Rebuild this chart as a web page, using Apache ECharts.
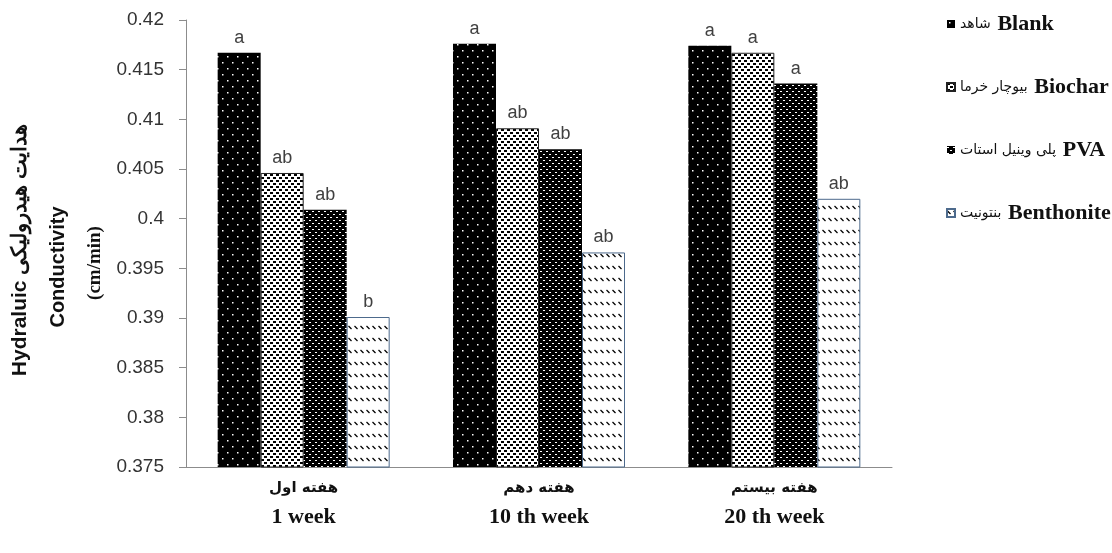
<!DOCTYPE html>
<html>
<head>
<meta charset="utf-8">
<script src="https://cdn.jsdelivr.net/npm/echarts@6/dist/echarts.min.js"></script>
<style>
  html, body { margin: 0; padding: 0; background: #fff; }
  #chart { width: 1112px; height: 553px; }
</style>
</head>
<body>
<div id="chart"></div>
<script>
// Sampling weeks (Persian caption + English caption)
const weeksFa = ['هفته اول', 'هفته دهم', 'هفته بیستم'];
const weeksEn = ['1 week', '10 th week', '20 th week'];

// Treatments
const treatmentsEn = ['Blank', 'Biochar', 'PVA', 'Benthonite'];
const treatmentsFa = ['شاهد', 'بیوچار خرما', 'پلی وینیل استات', 'بنتونیت'];

// Hydraulic conductivity (cm/min)
const blankValues = [0.4167, 0.4176, 0.4174];
const biocharValues = [0.4046, 0.4091, 0.4167];
const pvaValues = [0.4009, 0.4070, 0.4136];
const bentoniteValues = [0.3901, 0.3966, 0.4020];

// Significance letters
const blankLetters = ['a', 'a', 'a'];
const biocharLetters = ['ab', 'ab', 'a'];
const pvaLetters = ['ab', 'ab', 'a'];
const bentoniteLetters = ['b', 'ab', 'ab'];

// Y axis range
const yMin = 0.375;
const yMax = 0.42;
const yStep = 0.005;

// --- fill patterns -------------------------------------------------------
function tile(w, h, bg, draw) {
  const c = document.createElement('canvas');
  c.width = w; c.height = h;
  const g = c.getContext('2d');
  g.fillStyle = bg;
  g.fillRect(0, 0, w, h);
  draw(g);
  return c;
}
const blankPattern = tile(10, 12, '#000', g => {
  g.fillStyle = '#fff';
  g.fillRect(2, 2, 1.5, 1.5);
  g.fillRect(7, 8, 1.5, 1.5);
});
const biocharPattern = tile(6, 6, '#fff', g => {
  g.fillStyle = '#000';
  g.fillRect(0, 0, 3, 2);
  g.fillRect(3, 3, 3, 2);
});
const pvaPattern = tile(6, 6, '#000', g => {
  g.fillStyle = '#fff';
  g.fillRect(0, 1, 2, 1);
  g.fillRect(3, 4, 2, 1);
});
const bentonitePattern = tile(6, 12, '#fff', g => {
  g.strokeStyle = '#000';
  g.lineWidth = 1.3;
  g.beginPath();
  g.moveTo(0.5, 2);
  g.lineTo(3.5, 5);
  g.stroke();
});

const fills = [blankPattern, biocharPattern, pvaPattern, bentonitePattern];
const borders = [
  { borderWidth: 0 },
  { borderColor: '#222', borderWidth: 1 },
  { borderWidth: 0 },
  { borderColor: '#4d6a8c', borderWidth: 1 }
];
const valueSets = [blankValues, biocharValues, pvaValues, bentoniteValues];
const letterSets = [blankLetters, biocharLetters, pvaLetters, bentoniteLetters];

const chart = echarts.init(document.getElementById('chart'), null, { renderer: 'canvas' });

const series = treatmentsEn.map((name, i) => ({
  name: name,
  type: 'bar',
  data: valueSets[i],
  barWidth: 43,
  barGap: '0%',
  itemStyle: Object.assign({ color: { image: fills[i], repeat: 'repeat' } }, borders[i]),
  label: {
    show: true,
    position: 'top',
    distance: 6,
    color: '#404040',
    fontSize: 18,
    fontFamily: 'Liberation Sans, Arial, sans-serif',
    formatter: p => letterSets[i][p.dataIndex]
  },
  emphasis: { disabled: true }
}));

const faByEn = {};
treatmentsEn.forEach((n, i) => { faByEn[n] = treatmentsFa[i]; });

chart.setOption({
  backgroundColor: '#fff',
  animation: false,
  grid: { left: 186, right: 220, top: 20, bottom: 86 },
  legend: {
    orient: 'vertical',
    left: 941,
    top: 8,
    itemWidth: 8,
    itemHeight: 8,
    itemGap: 41,
    icon: 'rect',
    selectedMode: false,
    data: treatmentsEn,
    formatter: name => '{fa|' + faByEn[name] + '}  {en|' + name + '}',
    textStyle: {
      rich: {
        fa: { fontSize: 14, color: '#111', fontFamily: 'DejaVu Sans, sans-serif', lineHeight: 26 },
        en: { fontSize: 22, fontWeight: 'bold', color: '#111', fontFamily: 'Liberation Serif, Times New Roman, serif', lineHeight: 26 }
      }
    }
  },
  xAxis: {
    type: 'category',
    data: weeksEn,
    axisLine: { show: true, lineStyle: { color: '#8c8c8c', width: 1 } },
    axisTick: { show: false },
    axisLabel: {
      margin: 8,
      interval: 0,
      formatter: (v, idx) => '{fa|' + weeksFa[idx] + '}\n{en|' + v + '}',
      rich: {
        fa: { fontSize: 15, fontWeight: 'bold', color: '#111', fontFamily: 'DejaVu Sans, sans-serif', lineHeight: 26 },
        en: { fontSize: 22, fontWeight: 'bold', color: '#111', fontFamily: 'Liberation Serif, Times New Roman, serif', lineHeight: 32 }
      }
    }
  },
  yAxis: {
    type: 'value',
    min: yMin,
    max: yMax,
    interval: yStep,
    splitLine: { show: false },
    axisLine: { show: true, lineStyle: { color: '#8c8c8c', width: 1 } },
    axisTick: { show: true, length: 7, lineStyle: { color: '#8c8c8c' } },
    axisLabel: {
      margin: 22,
      color: '#333',
      fontSize: 19,
      fontFamily: 'Liberation Sans, Arial, sans-serif'
    }
  },
  graphic: [
    {
      type: 'text',
      x: 20, y: 250, rotation: Math.PI / 2,
      style: {
        text: 'Hydraluic هدایت هیدرولیکی',
        fill: '#111',
        font: 'bold 21px "Liberation Sans", Arial, sans-serif',
        textAlign: 'center', textVerticalAlign: 'middle'
      }
    },
    {
      type: 'text',
      x: 58, y: 267, rotation: Math.PI / 2,
      style: {
        text: 'Conductivity',
        fill: '#111',
        font: 'bold 20px "Liberation Sans", Arial, sans-serif',
        textAlign: 'center', textVerticalAlign: 'middle'
      }
    },
    {
      type: 'text',
      x: 95, y: 263, rotation: Math.PI / 2,
      style: {
        text: '(cm/min)',
        fill: '#111',
        font: 'bold 19px "Liberation Serif", "Times New Roman", serif',
        textAlign: 'center', textVerticalAlign: 'middle'
      }
    }
  ],
  series: series
});
</script>
</body>
</html>
